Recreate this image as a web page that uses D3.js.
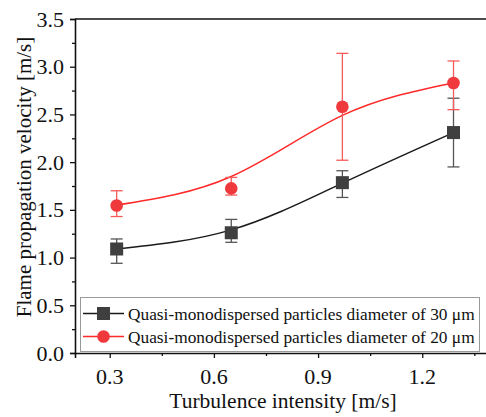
<!DOCTYPE html>
<html><head><meta charset="utf-8">
<script src="https://cdn.jsdelivr.net/npm/d3@7"></script>
<style>body{margin:0;background:#fff}svg{display:block}</style>
</head><body>
<svg id="c" width="486" height="417"></svg>
<script>
const xValues = [0.32, 0.65, 0.97, 1.29];
const blackY = [1.09, 1.26, 1.785, 2.31];
const blackErrLow = [0.94, 1.16, 1.63, 1.95];
const blackErrHigh = [1.195, 1.40, 1.91, 2.67];
const blackFit = [1.09, 1.29, 1.78, 2.31];
const redY = [1.545, 1.725, 2.58, 2.83];
const redErrLow = [1.43, 1.655, 2.02, 2.55];
const redErrHigh = [1.70, 1.84, 3.14, 3.06];
const redFit = [1.55, 1.85, 2.49, 2.83];
const xTicks = [0.3, 0.6, 0.9, 1.2];
const xMinor = [0.45, 0.75, 1.05, 1.35];
const yTicks = [0, 0.5, 1, 1.5, 2, 2.5, 3, 3.5];
const yMinor = [0.25, 0.75, 1.25, 1.75, 2.25, 2.75, 3.25];
const seriesNames = ["Quasi-monodispersed particles diameter of 30 \u03bcm",
                     "Quasi-monodispersed particles diameter of 20 \u03bcm"];

const svg = d3.select("#c").style("font-family", '"Liberation Serif"');
const L = 75, T = 19, B = 353, R = 491.7;
const x = d3.scaleLinear().domain([0.2, 1.4]).range([L, R]);
const y = d3.scaleLinear().domain([0, 3.5]).range([B, T]);
const FONT = '"Liberation Serif"';

const gx = svg.append("g").attr("transform", `translate(0,${B})`)
  .call(d3.axisBottom(x).tickValues(xTicks).tickFormat("").tickSize(5));
const gxm = svg.append("g").attr("transform", `translate(0,${B})`)
  .call(d3.axisBottom(x).tickValues(xMinor).tickFormat("").tickSize(3));
gxm.select(".domain").remove();
const gy = svg.append("g").attr("transform", `translate(${L},0)`)
  .call(d3.axisLeft(y).tickValues(yTicks).tickFormat("").tickSize(5));
const gym = svg.append("g").attr("transform", `translate(${L},0)`)
  .call(d3.axisLeft(y).tickValues(yMinor).tickFormat("").tickSize(3));
gym.select(".domain").remove();
svg.selectAll(".tick text").remove();
svg.selectAll(".domain").attr("stroke", "#111").attr("stroke-width", 1.6);
svg.selectAll(".tick line").attr("stroke", "#111").attr("stroke-width", 1.3);
svg.append("line").attr("x1", L).attr("x2", R).attr("y1", T).attr("y2", T)
  .attr("stroke", "#111").attr("stroke-width", 1.6);

const fmt = d3.format(".1f");
svg.append("g").selectAll("text").data(xTicks).join("text")
  .attr("x", d => x(d)).attr("y", B + 31).attr("text-anchor", "middle")
  .style("font-family", FONT).style("font-size", "22px").attr("fill", "#111").text(fmt);
svg.append("g").selectAll("text").data(yTicks).join("text")
  .attr("x", L - 11).attr("y", d => y(d) + 7.5).attr("text-anchor", "end")
  .style("font-family", FONT).style("font-size", "22px").attr("fill", "#111").text(fmt);

svg.append("text").attr("x", 283).attr("y", 408).attr("text-anchor", "middle")
  .style("font-family", FONT).style("font-size", "21.5px").attr("fill", "#111")
  .text("Turbulence intensity [m/s]");
svg.append("text").attr("transform", "translate(31,177) rotate(-90)").attr("text-anchor", "middle")
  .style("font-family", FONT).style("font-size", "21px").attr("fill", "#111")
  .text("Flame propagation velocity [m/s]");

const line = d3.line().curve(d3.curveNatural).x((d, i) => x(xValues[i])).y(d => y(d));

function drawSeries(vals, lo, hi, fit, lineColor, errColor, markColor, shape) {
  svg.append("path").attr("d", line(fit)).attr("fill", "none").attr("stroke", lineColor).attr("stroke-width", 1.5);
  const g = svg.append("g");
  xValues.forEach((xv, i) => {
    const cx = x(xv);
    g.append("line").attr("x1", cx).attr("x2", cx).attr("y1", y(lo[i])).attr("y2", y(hi[i])).attr("stroke", errColor).attr("stroke-width", 1.3);
    [lo[i], hi[i]].forEach(v => g.append("line").attr("x1", cx - 6).attr("x2", cx + 6).attr("y1", y(v)).attr("y2", y(v)).attr("stroke", errColor).attr("stroke-width", 1.3));
  });
  xValues.forEach((xv, i) => {
    if (shape === "square") g.append("rect").attr("x", x(xv) - 6.5).attr("y", y(vals[i]) - 6.5).attr("width", 13).attr("height", 13).attr("fill", markColor);
    else g.append("circle").attr("cx", x(xv)).attr("cy", y(vals[i])).attr("r", 6.3).attr("fill", markColor);
  });
}
drawSeries(blackY, blackErrLow, blackErrHigh, blackFit, "#1a1a1a", "#555", "#3f3f3f", "square");
drawSeries(redY, redErrLow, redErrHigh, redFit, "#ff2a2a", "#f65a5a", "#f0393d", "circle");

const lg = svg.append("g");
lg.append("rect").attr("x", 80.5).attr("y", 297.5).attr("width", 399).attr("height", 54)
  .attr("fill", "#fff").attr("stroke", "#999").attr("stroke-width", 1);
const legendItems = [
  {name: seriesNames[0], color: "#1a1a1a", mark: "#3f3f3f", shape: "square", yy: 313.5},
  {name: seriesNames[1], color: "#ff2a2a", mark: "#f0393d", shape: "circle", yy: 336.5}
];
legendItems.forEach(it => {
  lg.append("line").attr("x1", 83).attr("x2", 124).attr("y1", it.yy).attr("y2", it.yy).attr("stroke", it.color).attr("stroke-width", 1.5);
  if (it.shape === "square") lg.append("rect").attr("x", 97).attr("y", it.yy - 6.5).attr("width", 13).attr("height", 13).attr("fill", it.mark);
  else lg.append("circle").attr("cx", 103.5).attr("cy", it.yy).attr("r", 6.3).attr("fill", it.mark);
  const t = lg.append("text").attr("x", 128).attr("y", it.yy + 6).style("font-family", FONT).style("font-size", "18px").attr("fill", "#111").text(it.name);
  const w = t.node().getComputedTextLength();
  if (w > 0) t.style("font-size", (18 * 347 / w) + "px");
});
</script>
</body></html>
